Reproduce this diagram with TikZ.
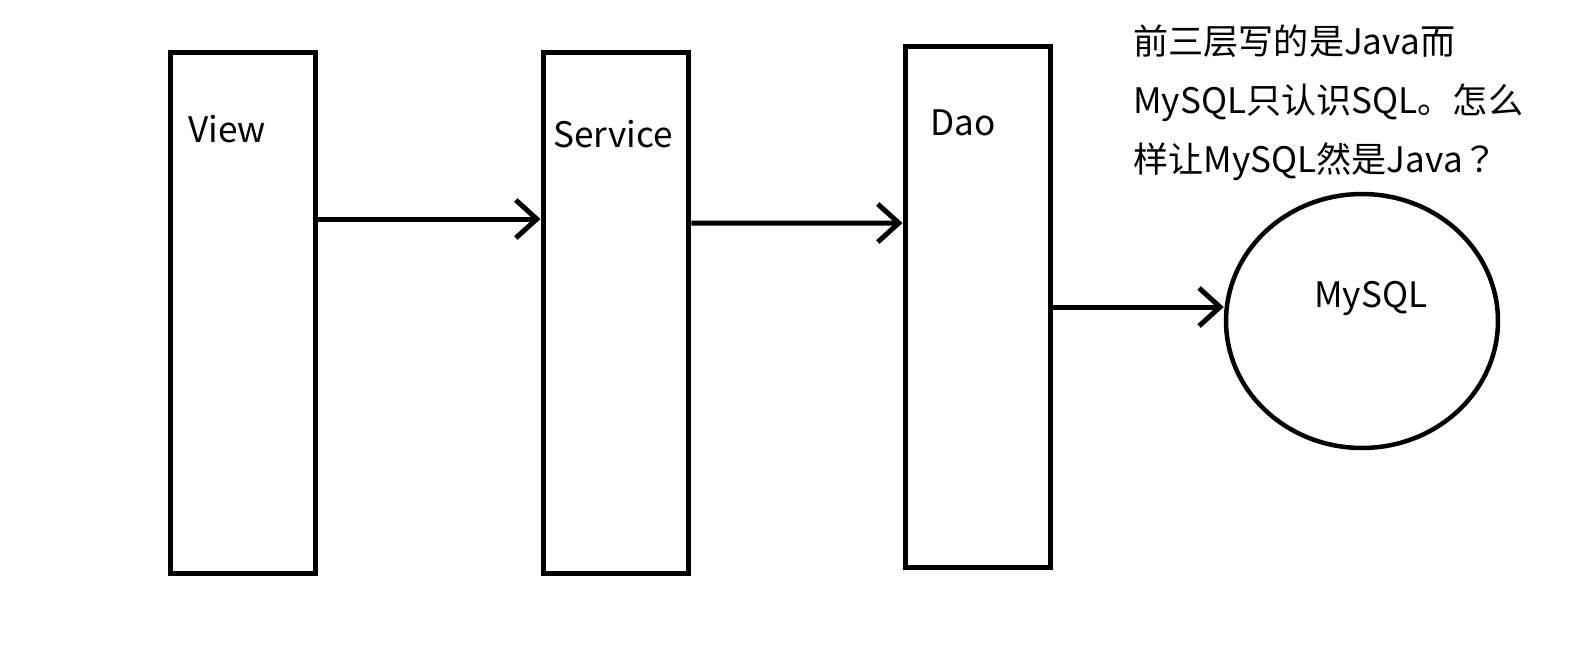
\documentclass[tikz,border=0pt]{standalone}
\usepackage{fontspec}
\setmainfont{Noto Sans CJK SC}
\newfontfamily\tcfont{Noto Sans CJK TC}
\usetikzlibrary{arrows.meta,shapes.geometric}
\begin{document}
\begin{tikzpicture}[x=0.02cm,y=-0.02cm,
  box/.style={draw,line width=0.1cm,minimum width=2.92cm,minimum height=10.44cm,inner sep=0},
  lbl/.style={anchor=base west,inner sep=0,font=\fontsize{20}{24}\selectfont},
  arr/.style={line width=0.1cm,-{Straight Barb[length=0.42cm,width=0.76cm,line width=0.1cm]}},
  db/.style={draw,ellipse,line width=0.09cm,minimum width=5.44cm,minimum height=5.08cm,inner sep=0}]
\useasboundingbox (0,0) rectangle (1589,670);
\node[box] (view) at (243,313) {};
\node[box] (service) at (616,313) {};
\node[box] (dao) at (978,307) {};
\node[db] (mysql) at (1362,321) {};
\node[lbl] (tview) at (188,142) {View};
\node[lbl] (tservice) at (553,147) {Service};
\node[lbl] (tdao) at (930,135) {Dao};
\node[lbl] (tmysql) at (1314,307) {MySQL};
\node[lbl] (q1) at (1133,54) {前三层写的是Java而};
\node[lbl] (q2) at (1133,113) {MySQL只认识SQL。怎么};
\node[lbl] (q3) at (1133,172) {样让MySQL然是Java{\tcfont ？}};
\draw[arr] ([yshift=1.88cm]view.east) -- ([yshift=1.88cm]service.west);
\draw[arr] ([yshift=1.8cm]service.east) -- ([yshift=1.68cm]dao.west);
\draw[arr] (dao.east) -- (dao.east -| mysql.west);
\end{tikzpicture}
\end{document}
